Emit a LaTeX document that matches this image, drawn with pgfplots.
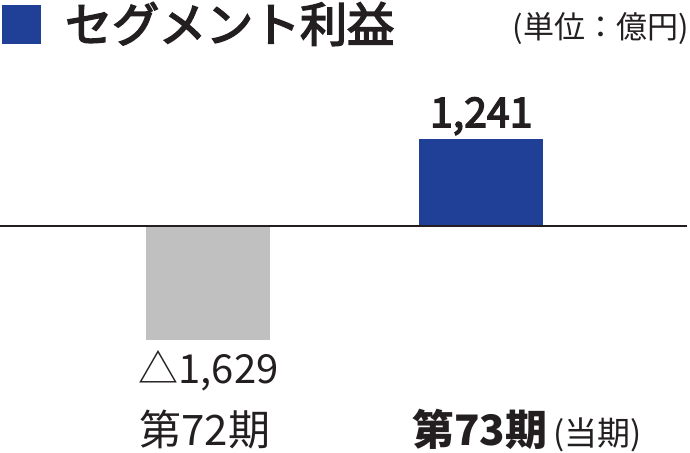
\documentclass[border=0pt]{standalone}
\usepackage{fontspec}
\setmainfont{Noto Sans CJK JP}
\newfontfamily\jpmed{Noto Sans CJK JP}[FakeBold=3.5]
\usepackage{pgfplots}
\pgfplotsset{compat=1.18}
\definecolor{segblue}{HTML}{203F96}
\definecolor{seggray}{HTML}{C0C0C0}
\definecolor{txt}{HTML}{231F20}
\begin{document}
\begin{tikzpicture}
  \begin{axis}[
      scale only axis,
      width=690pt, height=452pt,
      xmin=-0.764, xmax=1.765,
      ymin=-3229, ymax=3229,
      hide axis,
      clip=false,
      ybar, bar shift=0pt, bar width=0.4545,
    ]
    % segment profit (億円)
    \addplot[fill=seggray, draw=none] coordinates {(0,-1629)};
    \addplot[fill=segblue, draw=none] coordinates {(1,1241)};
    \draw[line width=1.4pt, txt] (axis cs:-0.764,0) -- (axis cs:1.754,0);

    % values
    \node[anchor=base, txt, font=\fontsize{41}{41}\jpmed, yshift=12pt]
      at (axis cs:1,1241) {1,241};
    \node[anchor=base, txt, font=\fontsize{40}{40}\selectfont, yshift=-43pt]
      at (axis cs:0,-1629) {△1,629};

    % categories
    \node[anchor=base, txt, font=\fontsize{42}{42}\selectfont]
      at (rel axis cs:0.297,0.0133) {第72期};
    \node[anchor=base west, txt, inner sep=0pt]
      at (rel axis cs:0.597,0.0133)
      {{\fontsize{42}{42}\selectfont\bfseries 第73期}\hspace{6pt}{\fontsize{33}{33}\selectfont (当期)}};

    % title and unit
    \fill[segblue] (rel axis cs:0.0029,0.9889) rectangle (rel axis cs:0.0594,0.9027);
    \node[anchor=west, txt, inner sep=0pt, font=\fontsize{47}{47}\jpmed]
      at (rel axis cs:0.0942,0.9469) {セグメント利益};
    \node[anchor=east, txt, inner sep=0pt, font=\fontsize{31}{31}\selectfont]
      at (rel axis cs:0.9986,0.937) {(単位：億円)};
  \end{axis}
  \pgfresetboundingbox
  \path[use as bounding box] (current axis.south west) rectangle (current axis.north east);
\end{tikzpicture}
\end{document}
